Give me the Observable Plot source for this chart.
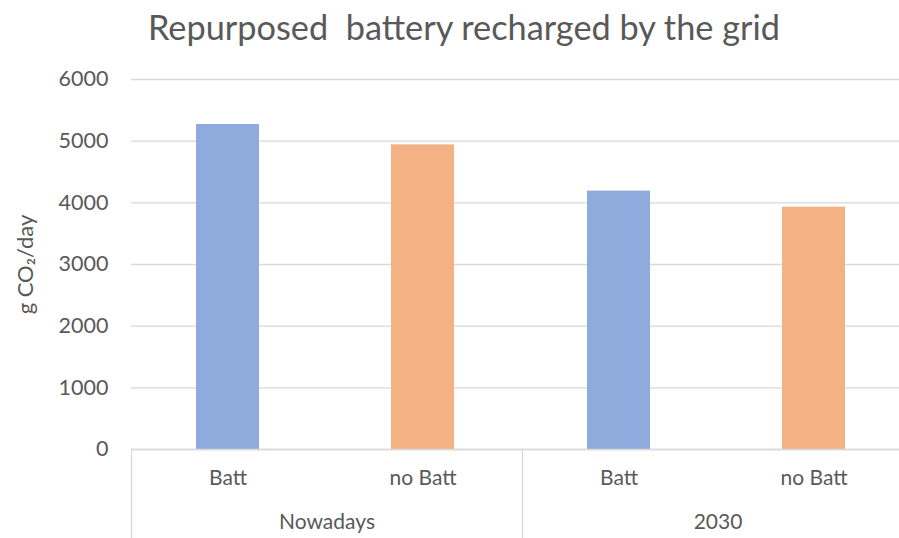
<!DOCTYPE html>
<html><head><meta charset="utf-8">
<script src="https://cdn.jsdelivr.net/npm/d3@7"></script>
<script src="https://cdn.jsdelivr.net/npm/@observablehq/plot@0.6"></script>
<style>
body{margin:0;background:#fff;font-family:Lato,sans-serif;overflow:hidden;width:899px;height:538px}
#title{height:60px;box-sizing:border-box;padding-left:148px;padding-top:6px;font-size:34.3px;color:#595959;white-space:pre;line-height:42px}
</style></head><body>
<div id="title">Repurposed  battery recharged by the grid</div>
<div id="chart"></div>
<script>
const groups = ["Nowadays", "2030"];
const scenarios = ["Batt", "no Batt"];
const valuesNowadays = [5270, 4940];
const values2030 = [4190, 3930];
const yTicks = [0, 1000, 2000, 3000, 4000, 5000, 6000];
const yLabel = "g CO₂/day";
const colors = ["#8faadc", "#f4b183"];

const data = [];
[valuesNowadays, values2030].forEach((vals, gi) => {
  vals.forEach((v, si) => data.push({group: groups[gi], scenario: scenarios[si], value: v}));
});

const chart = Plot.plot({
  width: 899, height: 478,
  marginTop: 19, marginBottom: 89, marginLeft: 131, marginRight: -14,
  style: {fontFamily: "Lato, sans-serif", fontSize: "21px", color: "#595959", background: "#fff"},
  y: {domain: [0, 6000]},
  fx: {domain: groups, padding: 0},
  x: {domain: scenarios, paddingInner: 0.678, paddingOuter: 0.339, align: 0.49},
  color: {domain: scenarios, range: colors},
  marks: [
    Plot.gridY(yTicks, {stroke: "#d9d9d9", strokeOpacity: 1, strokeWidth: 1.3}),
    Plot.axisY(yTicks, {tickSize: 0, tickPadding: 23, tickFormat: d3.format("d"), label: null, fontSize: 21.5}),
    Plot.text([yLabel], {frameAnchor: "left", textAnchor: "middle", rotate: -90, dx: -106, fontSize: 22, fill: "#595959", facetAnchor: "left"}),
    Plot.barY(data, {fx: "group", x: "scenario", y: "value", fill: "scenario"}),
    Plot.ruleY([0], {stroke: "#d9d9d9", strokeWidth: 1.3}),
    Plot.frame({anchor: "left", stroke: "#d9d9d9", strokeWidth: 1.3, insetTop: 370, insetBottom: -89}),
    Plot.axisX({tickSize: 0, tickPadding: 21, label: null, fontSize: 21}),
    Plot.axisFx({anchor: "bottom", tickSize: 0, tickPadding: 65, label: null, fontSize: 21})
  ]
});
document.getElementById("chart").appendChild(chart);
</script>
</body></html>
